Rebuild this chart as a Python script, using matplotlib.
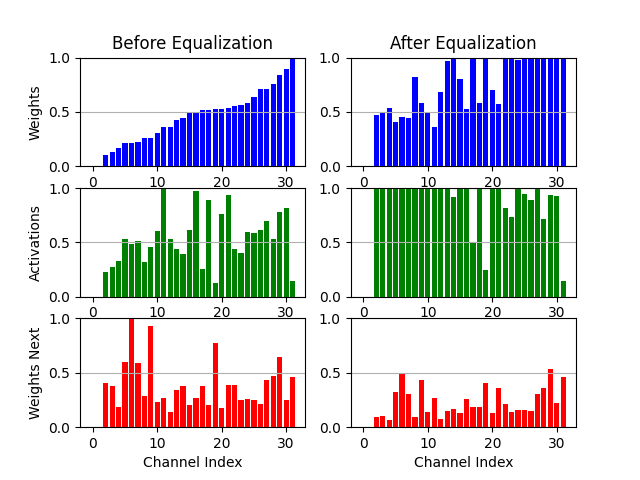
import matplotlib
matplotlib.use("Agg")
import matplotlib.pyplot as plt
import numpy as np

channels = list(range(32))

weights_before = [0, 0, 0.106, 0.134, 0.171, 0.217, 0.217, 0.227, 0.264, 0.264,
                  0.31, 0.357, 0.357, 0.422, 0.441, 0.5, 0.5, 0.515, 0.515, 0.525,
                  0.525, 0.534, 0.553, 0.562, 0.581, 0.637, 0.711, 0.711, 0.758, 0.842,
                  0.898, 1.0]
weights_after = [0, 0, 0.469, 0.497, 0.534, 0.404, 0.45, 0.441, 0.823, 0.581,
                 0.497, 0.357, 0.683, 0.972, 1.1, 0.804, 0.525, 1.1, 0.581, 1.1,
                 0.702, 0.571, 1.1, 1.1, 0.981, 1.1, 1.1, 1.1, 1.1, 1.1,
                 1.1, 1.1]
act_before = [0, 0, 0.227, 0.273, 0.329, 0.534, 0.488, 0.515, 0.32, 0.46,
              0.609, 1.0, 0.534, 0.441, 0.394, 0.618, 0.972, 0.255, 0.888, 0.124,
              0.758, 0.935, 0.441, 0.404, 0.599, 0.59, 0.618, 0.693, 0.534, 0.776,
              0.814, 0.143]
act_after = [0, 0, 1.1, 1.1, 1.1, 1.1, 1.1, 1.1, 1.1, 1.1,
             1.1, 1.1, 1.1, 1.1, 0.916, 1.1, 1.1, 0.503, 1.1, 0.245,
             1.1, 1.1, 0.814, 0.73, 1.1, 0.944, 0.888, 0.99, 0.711, 0.935,
             0.925, 0.143]
wnext_before = [0, 0, 0.407, 0.38, 0.185, 0.602, 1.0, 0.593, 0.287, 0.935,
                0.231, 0.269, 0.139, 0.343, 0.38, 0.204, 0.269, 0.38, 0.204, 0.778,
                0.176, 0.389, 0.389, 0.25, 0.259, 0.25, 0.213, 0.435, 0.472, 0.648,
                0.25, 0.463]
wnext_after = [0, 0, 0.093, 0.102, 0.065, 0.324, 0.491, 0.306, 0.093, 0.435,
               0.139, 0.269, 0.074, 0.148, 0.167, 0.13, 0.259, 0.185, 0.185, 0.407,
               0.13, 0.361, 0.213, 0.139, 0.157, 0.157, 0.148, 0.306, 0.361, 0.537,
               0.222, 0.463]

rows = [
    ("Weights", "blue", weights_before, weights_after),
    ("Activations", "green", act_before, act_after),
    ("Weights Next", "red", wnext_before, wnext_after),
]
col_titles = ["Before Equalization", "After Equalization"]

fig, axes = plt.subplots(3, 2, figsize=(6.4, 4.8), dpi=100)
for r, (label, color, before, after) in enumerate(rows):
    for c, data in enumerate([before, after]):
        ax = axes[r][c]
        ax.bar(channels, data, color=color)
        ax.set_ylim(0, 1)
        ax.set_yticks([0, 0.5, 1.0])
        ax.grid(axis='y')
        if r == 0:
            ax.set_title(col_titles[c])
        if c == 0:
            ax.set_ylabel(label)
        if r == 2:
            ax.set_xlabel("Channel Index")

fig.savefig("out.png", dpi=100)
